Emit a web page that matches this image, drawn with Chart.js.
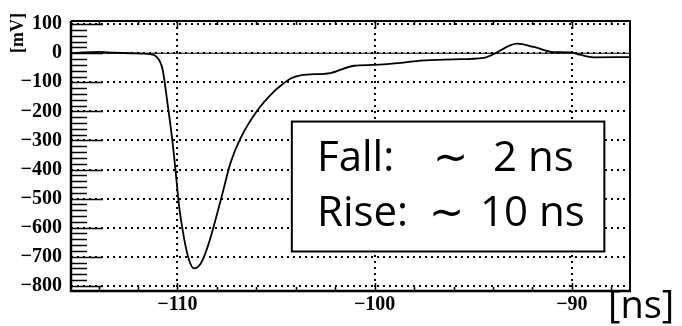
<!DOCTYPE html>
<html>
<head>
<meta charset="utf-8">
<script src="https://cdn.jsdelivr.net/npm/chart.js@4"></script>
<style>
  body { margin: 0; background: #fff; }
  #wrap { width: 682px; height: 326px; }
</style>
</head>
<body>
<div id="wrap"><canvas id="pulso"></canvas></div>
<script>
// waveform
const timeNs = [-115.4, -114.8, -114.0, -113.2, -112.4, -111.8, -111.4, -111.1, -110.76, -110.5, -110.25, -110.08, -109.92, -109.67, -109.41, -109.16, -108.82, -108.48, -107.8, -107.3, -106.8, -105.95, -105.1, -104.77, -104.26, -103.76, -102.24, -101.06, -100.05, -98.53, -97.68, -96.0, -94.48, -93.97, -93.1, -92.78, -91.94, -90.93, -90.1, -89.6, -88.9, -87.05];
const signalMv = [0, 3, 5, 2, 0, -1, -3, -10, -54, -175, -306, -416, -526, -635, -712, -740, -723, -668, -504, -375, -292, -197, -131, -112, -87, -76, -68, -43, -40, -32, -25, -21, -16, -3, 28, 33, 22, 4, 3, -5, -14, -13];

const xTicks = [-110, -100, -90];
const xTickLabels = ["\u2212110", "\u2212100", "\u221290"];
const yTicks = [100, 0, -100, -200, -300, -400, -500, -600, -700, -800];
const yTickLabels = ["100", "0", "\u2212100", "\u2212200", "\u2212300", "\u2212400", "\u2212500", "\u2212600", "\u2212700", "\u2212800"];

const xMin = -115.4, xMax = -87.05;
const yMin = -818, yMax = 111;

const tickFont = { family: "'Liberation Serif'", size: 20, weight: "bold" };
const dotted = { color: "#000", lineWidth: 2, drawTicks: false };
const dottedBorder = { display: false, dash: [2, 4] };

const marcos = {
  id: "marcos",
  afterDatasetsDraw(chart) {
    const c = chart.ctx;
    const a = chart.chartArea;
    const sx = chart.scales.x, sy = chart.scales.y;
    c.save();
    c.strokeStyle = "#000";
    c.lineWidth = 1.5;
    c.beginPath();
    // left ticks, inward
    for (let v = -800; v <= 100; v += 20) {
      const py = Math.round(sy.getPixelForValue(v)) + 0.5;
      const len = v % 100 === 0 ? 32 : 16;
      c.moveTo(a.left, py); c.lineTo(a.left + len, py);
    }
    // bottom and top ticks
    for (let v = -114; v <= -88; v += 2) {
      const px = Math.round(sx.getPixelForValue(v)) + 0.5;
      const len = v % 10 === 0 ? 8 : 4;
      c.moveTo(px, a.bottom); c.lineTo(px, a.bottom - len);
      c.moveTo(px, a.top); c.lineTo(px, a.top + len);
    }
    c.stroke();

    // frame
    c.lineWidth = 2.5;
    c.beginPath();
    c.moveTo(a.left, a.top); c.lineTo(a.left, a.bottom); c.lineTo(a.right + 1, a.bottom);
    c.stroke();
    c.lineWidth = 2;
    c.beginPath();
    c.moveTo(a.left, a.top); c.lineTo(a.right, a.top); c.lineTo(a.right, a.bottom);
    c.stroke();

    // text box
    const bx0 = sx.getPixelForValue(-104.2), bx1 = sx.getPixelForValue(-88.35);
    const by0 = sy.getPixelForValue(-235), by1 = sy.getPixelForValue(-682);
    c.fillStyle = "#fff";
    c.fillRect(bx0, by0, bx1 - bx0, by1 - by0);
    c.lineWidth = 2;
    c.strokeRect(bx0, by0, bx1 - bx0, by1 - by0);

    c.fillStyle = "#000";
    c.textBaseline = "alphabetic";
    c.textAlign = "left";
    c.font = "42px 'Open Sans'";
    c.fillText("Fall:", 317, 171);
    c.fillText("\u223C", 433, 171);
    c.fillText("2 ns", 493, 171);
    c.fillText("Rise:", 317, 226);
    c.fillText("\u223C", 429, 226);
    c.fillText("10 ns", 480, 226);

    // axis units
    c.font = "38px 'Open Sans'";
    c.fillText("[ns]", 608, 318);

    c.save();
    c.translate(23, 33);
    c.rotate(-Math.PI / 2);
    c.textAlign = "center";
    c.font = "bold 18px 'Liberation Serif'";
    c.fillText("[mV]", 0, 0);
    c.restore();

    c.restore();
  }
};

new Chart(document.getElementById("pulso"), {
  type: "line",
  data: {
    datasets: [
      {
        data: timeNs.map((t, i) => ({ x: t, y: signalMv[i] })),
        borderColor: "#000",
        borderWidth: 1.8,
        pointRadius: 0,
        cubicInterpolationMode: "monotone",
      },
      {
        // zero baseline
        data: [{ x: xMin, y: 0 }, { x: xMax, y: 0 }],
        borderColor: "#000",
        borderWidth: 1.2,
        pointRadius: 0,
      },
    ],
  },
  options: {
    responsive: true,
    maintainAspectRatio: false,
    animation: false,
    devicePixelRatio: 1,
    layout: { padding: { top: 10, right: 52, left: 0, bottom: 0 } },
    plugins: { legend: { display: false }, tooltip: { enabled: false } },
    scales: {
      x: {
        type: "linear",
        min: xMin,
        max: xMax,
        afterBuildTicks: (s) => { s.ticks = xTicks.map((v) => ({ value: v })); },
        afterFit: (s) => { s.height = 35; },
        ticks: {
          color: "#000",
          font: tickFont,
          padding: 2,
          maxRotation: 0,
          callback: (v) => xTickLabels[xTicks.indexOf(v)],
        },
        grid: dotted,
        border: dottedBorder,
      },
      y: {
        min: yMin,
        max: yMax,
        afterBuildTicks: (s) => { s.ticks = yTicks.map((v) => ({ value: v })); },
        afterFit: (s) => { s.width = 71; },
        ticks: {
          color: "#000",
          font: tickFont,
          padding: 9,
          callback: (v) => yTickLabels[yTicks.indexOf(v)],
        },
        grid: dotted,
        border: dottedBorder,
      },
    },
  },
  plugins: [marcos],
});
</script>
</body>
</html>
